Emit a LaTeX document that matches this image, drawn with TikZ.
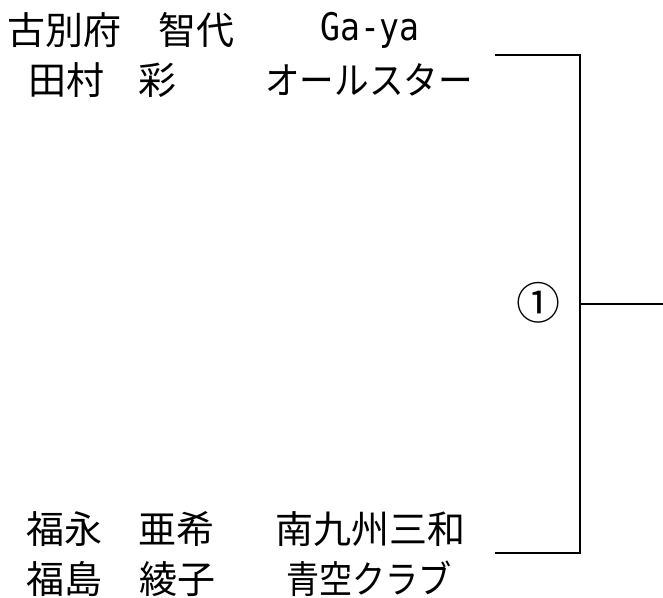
\documentclass[tikz,border=0pt]{standalone}
\usepackage{fontspec}
\usepackage{graphicx}
\setmainfont{Noto Sans CJK JP}
\newfontfamily\latinmono[FakeStretch=0.87]{DejaVu Sans Mono}
\begin{document}
\begin{tikzpicture}[x=1pt,y=-1pt,
  person/.style={inner sep=0pt,font=\fontsize{38}{40}\selectfont},
  teamlabel/.style={inner sep=0pt,font=\fontsize{38}{40}\selectfont},
  bracket/.style={line width=2.8pt}]
\useasboundingbox (0,0) rectangle (663,597);
% top pair
\node[person] (n1a) at (64,30) {古別府};
\node[person] (n1b) at (196.5,30) {智代};
\node[teamlabel] (t1) at (370,30) {\latinmono Ga-ya};
\node[person] (n2a) at (66,80) {田村};
\node[person] (n2b) at (157,80) {彩};
\node[teamlabel] (t2) at (369,80) {\scalebox{0.91}[1]{オールスター}};
% bottom pair
\node[person] (n3a) at (64,529) {福永};
\node[person] (n3b) at (176,529) {亜希};
\node[teamlabel] (t3) at (370,529) {南九州三和};
\node[person] (n4a) at (64,579) {福島};
\node[person] (n4b) at (177.5,579) {綾子};
\node[teamlabel] (t4) at (369,579) {\scalebox{0.87}[1]{青空クラブ}};
% bracket
\coordinate (tl) at (495,55);
\coordinate (tr) at (580,55);
\coordinate (bl) at (495,553);
\coordinate (br) at (580,553);
\coordinate (mid) at (580,304);
\coordinate (out) at (663,304);
\draw[bracket] (tl) -- (tr) -- (br) -- (bl);
\draw[bracket] (mid) -- (out);
\node[person,font=\fontsize{44}{46}\selectfont] (m1) at (538,303) {①};
\end{tikzpicture}
\end{document}
